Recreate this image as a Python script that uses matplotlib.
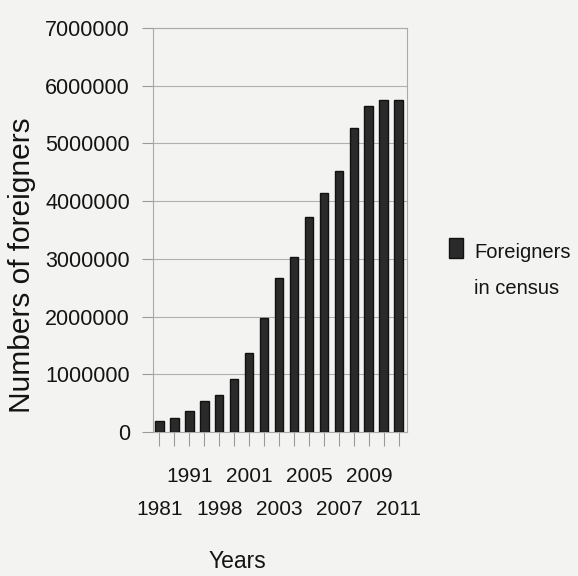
import matplotlib
matplotlib.use("Agg")
import matplotlib.pyplot as plt
from matplotlib.patches import Rectangle

years = ["1981", "1986", "1991", "1996", "1998", "2000", "2001", "2002", "2003",
         "2004", "2005", "2006", "2007", "2008", "2009", "2010", "2011"]
foreigners = [198000, 242000, 361000, 539000, 637000, 924000, 1371000, 1978000,
              2664000, 3034000, 3731000, 4144000, 4520000, 5269000, 5649000,
              5748000, 5751000]
yticks = [0, 1000000, 2000000, 3000000, 4000000, 5000000, 6000000, 7000000]
legend_lines = ["Foreigners", "in census"]

font = ["Liberation Sans", "DejaVu Sans"]
txt = "#141414"
bar_face = "#2a2a2a"
bar_edge = "#111111"
bg = "#f3f3f1"

fig = plt.figure(figsize=(5.78, 5.76), dpi=100, facecolor=bg)
ax = fig.add_axes([153 / 578, 1 - 432 / 576, 254 / 578, 404 / 576])
ax.set_facecolor(bg)

x = list(range(len(years)))
ax.bar(x, foreigners, width=0.58, color=bar_face, edgecolor=bar_edge,
       linewidth=1.0, zorder=3)

ax.set_xlim(-0.42, len(years) - 0.45)
ax.set_ylim(0, 7000000)
ax.set_yticks(yticks)
ax.set_yticklabels([str(v) for v in yticks], family=font, fontsize=15.5,
                   color=txt)
ax.grid(axis="y", color="#b0b0b0", linewidth=0.8, zorder=0)

# staggered year labels: upper row on major ticks, lower row on minor ticks
upper = [yr if i % 4 == 2 else "" for i, yr in enumerate(years)]
lower_pos = [i for i in x if i % 4 == 0]
lower = [years[i] for i in lower_pos]
ax.xaxis.remove_overlapping_locs = False
ax.set_xticks(x)
ax.set_xticklabels(upper, family=font, fontsize=15, color=txt)
ax.set_xticks(lower_pos, minor=True)
ax.set_xticklabels(lower, minor=True, family=font, fontsize=15, color=txt)
ax.tick_params(axis="x", which="major", direction="out", length=10, width=0.8,
               color="#9a9a9a", pad=15)
ax.tick_params(axis="x", which="minor", length=0, pad=48.8)
ax.tick_params(axis="y", direction="out", length=8, width=0.8,
               color="#9a9a9a", pad=8.5)
for s in ax.spines.values():
    s.set_color("#aaaaaa")
    s.set_linewidth(0.8)

ax.set_ylabel("Numbers of foreigners", family=font, fontsize=21.5,
              color=txt, va="center", ha="center")
ax.yaxis.set_label_coords(-0.516, 0.413)
ax.set_xlabel("Years", family=font, fontsize=16.5, color=txt, va="top")
ax.xaxis.set_label_coords(0.331, -0.292)

# legend drawn beside the plot
fig.patches.append(Rectangle((449 / 578, 1 - 258 / 576), 14 / 578, 20 / 576,
                             transform=fig.transFigure, facecolor=bar_face,
                             edgecolor=bar_edge, linewidth=1.0))
fig.text(474 / 578, 1 - 258 / 576, legend_lines[0], family=font, fontsize=14.5,
         color=txt, va="baseline", ha="left")
fig.text(474 / 578, 1 - 294 / 576, legend_lines[1], family=font, fontsize=14.5,
         color=txt, va="baseline", ha="left")

fig.savefig("out.png", dpi=100, facecolor=bg)
